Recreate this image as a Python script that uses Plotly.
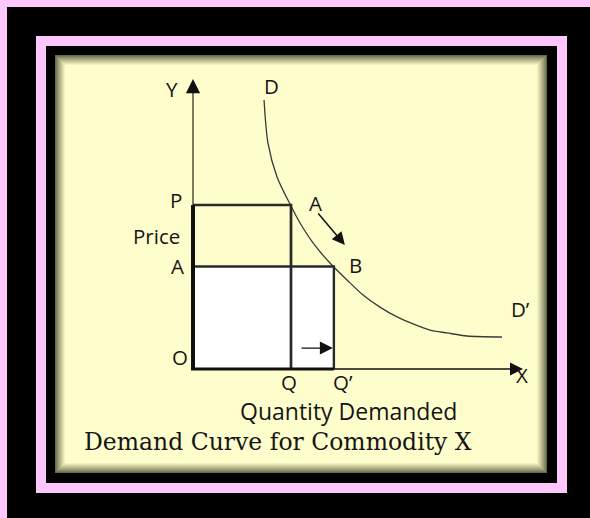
import plotly.graph_objects as go

# ---------------- data ----------------
demand_q = [2.90, 3.06, 3.43, 4.00, 4.37, 4.90, 5.59, 6.29, 6.94, 7.63, 8.33, 8.98, 9.67, 10.37, 11.18, 12.61]
demand_p = [13.12, 11.02, 9.37, 7.95, 7.12, 6.15, 5.17, 4.34, 3.61, 3.02, 2.54, 2.20, 1.90, 1.76, 1.61, 1.56]
qty_levels = [4.0, 5.75]          # Q, Q'
price_levels = [8.0, 5.0]         # P, A
axis_end = [13.47, 14.15]         # X, Y axis tips

Q, Qp = qty_levels
P, A = price_levels

W, H = 590, 518
PINK = "#fdc6fd"
YELLOW = "#fefecc"
INK = "#151515"

# pixel scale of chart axes (origin O at pixel 193,369)
ox, oy, sx, sy = 193, 369, 24.5, 20.5
xr = [(0 - ox) / sx, (W - ox) / sx]
yr = [(oy - H) / sy, (oy - 0) / sy]

fig = go.Figure()

def prect(x0, y0, x1, y1, color):
    fig.add_shape(type="rect", xref="paper", yref="paper",
                  x0=x0 / W, x1=x1 / W, y0=1 - y1 / H, y1=1 - y0 / H,
                  fillcolor=color, line_width=0, layer="below")

# frame
prect(7, 7, W, H, "#000000")
prect(36, 36, 567, 493, PINK)
prect(46, 46, 557, 483, "#000000")
dark = (80, 80, 52)
yel = (254, 254, 204)
n = 11
for i in range(n):
    t = ((i + 1) / n) ** 0.8
    c = tuple(int(dark[k] + (yel[k] - dark[k]) * t) for k in range(3))
    prect(55 + i, 55 + i, 547 - i, 473 - i, "rgb(%d,%d,%d)" % c)

# white area O-A-B-Q'
fig.add_trace(go.Scatter(x=[0, 0, Qp, Qp, 0], y=[0, A, A, 0, 0], mode="lines",
                         fill="toself", fillcolor="white", line=dict(width=0),
                         hoverinfo="skip"))
# demand curve
fig.add_trace(go.Scatter(x=demand_q, y=demand_p, mode="lines",
                         line=dict(color="#3a3a3a", width=1.3, shape="spline", smoothing=0.8)))
# P rectangle
fig.add_trace(go.Scatter(x=[0, Q, Q], y=[P, P, 0], mode="lines",
                         line=dict(color="#2a2a2a", width=2.7)))
# A rectangle
fig.add_trace(go.Scatter(x=[0, Qp, Qp], y=[A, A, 0], mode="lines",
                         line=dict(color="#2a2a2a", width=2.4)))
# thick axis segments
fig.add_trace(go.Scatter(x=[0, 0], y=[-0.05, P], mode="lines",
                         line=dict(color="#111", width=4)))
fig.add_trace(go.Scatter(x=[-0.08, Qp], y=[0, 0], mode="lines",
                         line=dict(color="#111", width=3)))

def arrow(x0, y0, x1, y1, w, size, head=2):
    fig.add_annotation(x=x1, y=y1, ax=x0, ay=y0, xref="x", yref="y",
                       axref="x", ayref="y", text="", showarrow=True,
                       arrowhead=head, arrowwidth=w, arrowsize=size,
                       arrowcolor="#111", standoff=0, startstandoff=0)

# axes with arrowheads
arrow(0, 0, 0, axis_end[1], 1.1, 2.6)
arrow(0, 0, axis_end[0], 0, 1.3, 2.0)
# A -> B movement arrow
arrow(5.06, 7.66, 6.20, 6.05, 1.5, 1.7)
# Q -> Q' arrow
arrow(4.37, 1.02, 5.71, 1.02, 1.3, 2.0)

SANS = "Open Sans"
def label(x, y, s, size=20.5, fam=SANS):
    fig.add_annotation(x=x, y=y, xref="x", yref="y", text=s, showarrow=False,
                       borderpad=0,
                       font=dict(family=fam, size=size, color=INK))

label(-0.86, 13.66, "Y")
label(3.22, 13.80, "D")
label(-0.69, 8.24, "P")
label(-1.47, 6.49, "Price")
label(-0.65, 5.02, "A")
label(-0.53, 0.59, "O")
label(3.92, -0.63, "Q")
label(6.12, -0.63, "Q’")
label(4.98, 8.10, "A")
label(6.65, 5.07, "B")
label(13.35, 2.93, "D’")
label(13.43, -0.29, "X")
label(6.35, -2.07, "Quantity Demanded", size=23)
label(3.45, -3.56, "Demand Curve for Commodity X", size=23.5, fam="DejaVu Serif")

fig.update_xaxes(range=xr, visible=False, domain=[0, 1])
fig.update_yaxes(range=yr, visible=False, domain=[0, 1])
fig.update_layout(width=W, height=H, margin=dict(l=0, r=0, t=0, b=0),
                  paper_bgcolor=PINK, plot_bgcolor="rgba(0,0,0,0)",
                  showlegend=False)

fig.write_html("out.html", post_script="document.body.style.margin='0';",
               config={"displayModeBar": False})
